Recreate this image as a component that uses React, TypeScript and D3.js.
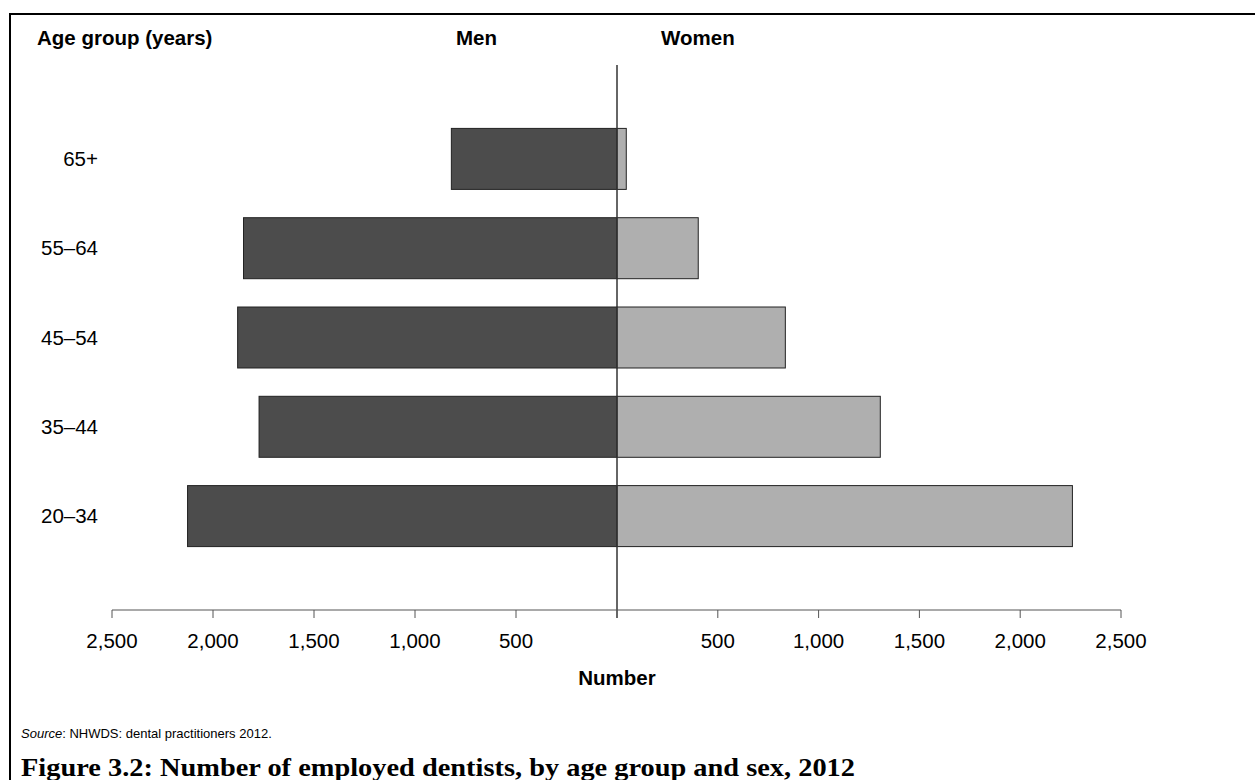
import React from "react";
import * as d3 from "d3";

const ageGroups = ["65+", "55–64", "45–54", "35–44", "20–34"];
const menValues = [820, 1849, 1878, 1772, 2126];
const womenValues = [46, 403, 835, 1306, 2259];
const tickValues = [500, 1000, 1500, 2000, 2500];

const W = 1255;
const H = 780;
const CX = 617;
const AXIS_Y = 610;
const TOP_Y = 65;

const MEN_FILL = "#4c4c4c";
const WOMEN_FILL = "#afafaf";
const SANS = "Liberation Sans, Arial, Helvetica, sans-serif";

export default function App() {
  const xMen = d3.scaleLinear().domain([0, 2500]).range([CX, 112]);
  const xWomen = d3.scaleLinear().domain([0, 2500]).range([CX, 1121]);
  const y = d3
    .scaleBand<string>()
    .domain(ageGroups)
    .range([TOP_Y, AXIS_Y])
    .paddingInner(0.317)
    .paddingOuter(0.71);
  const fmt = d3.format(",");

  return (
    <svg
      width={W}
      height={H}
      style={{ position: "absolute", left: 0, top: 0, background: "#fff" }}
      fontFamily={SANS}
    >
      {/* frame */}
      <line x1={10} y1={14} x2={W} y2={14} stroke="#000" strokeWidth={2} />
      <line x1={10} y1={13} x2={10} y2={H} stroke="#000" strokeWidth={2} />

      {/* headers */}
      <text x={37} y={45} fontSize={20.5} fontWeight="bold" fill="#000">
        Age group (years)
      </text>
      <text x={456} y={45} fontSize={20.5} fontWeight="bold" fill="#000">
        Men
      </text>
      <text x={661} y={45} fontSize={20.5} fontWeight="bold" fill="#000">
        Women
      </text>

      {/* bars */}
      {ageGroups.map((g, i) => {
        const yy = y(g) as number;
        const bh = y.bandwidth();
        const mx = xMen(menValues[i]);
        const wx = xWomen(womenValues[i]);
        return (
          <g key={g}>
            <rect
              x={mx}
              y={yy}
              width={CX - mx}
              height={bh}
              fill={MEN_FILL}
              stroke="#222"
              strokeWidth={1}
            />
            <rect
              x={CX}
              y={yy}
              width={wx - CX}
              height={bh}
              fill={WOMEN_FILL}
              stroke="#222"
              strokeWidth={1}
            />
            <text
              x={98}
              y={yy + bh / 2 + 7}
              fontSize={20.5}
              textAnchor="end"
              fill="#000"
            >
              {g}
            </text>
          </g>
        );
      })}

      {/* center line */}
      <line x1={CX} y1={TOP_Y} x2={CX} y2={AXIS_Y + 8} stroke="#333" strokeWidth={1.5} />

      {/* axis */}
      <line x1={xMen(2500)} y1={AXIS_Y} x2={xWomen(2500)} y2={AXIS_Y} stroke="#555" strokeWidth={1} />
      {tickValues.map((t) => (
        <g key={"m" + t}>
          <line x1={xMen(t)} y1={AXIS_Y} x2={xMen(t)} y2={AXIS_Y + 8} stroke="#555" strokeWidth={1} />
          <text x={xMen(t)} y={648} fontSize={20.5} textAnchor="middle" fill="#000">
            {fmt(t)}
          </text>
        </g>
      ))}
      {tickValues.map((t) => (
        <g key={"w" + t}>
          <line x1={xWomen(t)} y1={AXIS_Y} x2={xWomen(t)} y2={AXIS_Y + 8} stroke="#555" strokeWidth={1} />
          <text x={xWomen(t)} y={648} fontSize={20.5} textAnchor="middle" fill="#000">
            {fmt(t)}
          </text>
        </g>
      ))}
      <text x={CX} y={685} fontSize={20.5} fontWeight="bold" textAnchor="middle" fill="#000">
        Number
      </text>

      {/* source */}
      <text x={21} y={738} fontSize={13} fill="#000">
        <tspan fontStyle="italic">Source</tspan>
        <tspan>: NHWDS: dental practitioners 2012.</tspan>
      </text>

      {/* title */}
      <text
        x={21}
        y={776}
        fontSize={25}
        fontWeight="bold"
        fontFamily="Liberation Serif, DejaVu Serif, serif"
        fill="#000"
        textLength={834}
        lengthAdjust="spacingAndGlyphs"
      >
        Figure 3.2: Number of employed dentists, by age group and sex, 2012
      </text>
    </svg>
  );
}
